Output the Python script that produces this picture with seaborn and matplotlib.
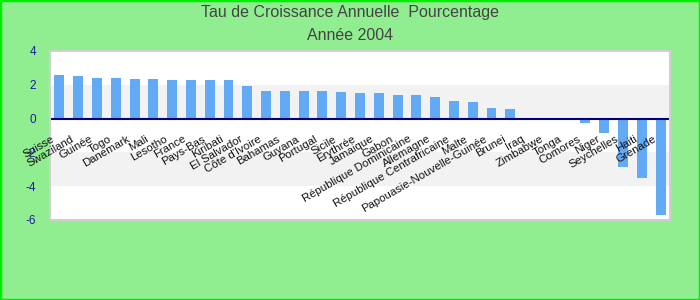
import matplotlib
matplotlib.use("Agg")
import matplotlib.pyplot as plt
import matplotlib.transforms as mtransforms
from matplotlib.patches import Rectangle
import seaborn as sns
import pandas as pd

countries = ["Suisse", "Swaziland", "Guinée", "Togo", "Danemark", "Mali", "Lesotho",
             "France", "Pays-Bas", "Kiribati", "El Salvador", "Côte d'Ivoire", "Bahamas",
             "Guyana", "Portugal", "Sicile", "Erythrée", "Jamaique", "Gabon",
             "République Dominicaine", "Allemagne", "République Centrafricaine", "Malte",
             "Papouasie-Nouvelle-Guinée", "Brunei", "Iraq", "Zimbabwe", "Tonga", "Comores",
             "Niger", "Seychelles", "Haiti", "Grenade"]
values = [2.57, 2.51, 2.40, 2.40, 2.34, 2.34, 2.28, 2.28, 2.28, 2.28, 1.92, 1.62, 1.62,
          1.62, 1.62, 1.56, 1.50, 1.50, 1.39, 1.39, 1.27, 1.03, 0.97, 0.61, 0.55, 0.0,
          0.0, 0.0, -0.28, -0.87, -2.87, -3.52, -5.72]
y_ticks = [4, 2, 0, -2, -4, -6]
title_lines = ["Tau de Croissance Annuelle  Pourcentage", "Année 2004"]

df = pd.DataFrame({"pays": countries, "taux": values})

sns.set_style("white")
plt.rcParams["font.family"] = ["Liberation Sans", "DejaVu Sans"]

W, H = 700, 300
fig = plt.figure(figsize=(7, 3), dpi=100, facecolor="#90EE90")
fig.patches.append(Rectangle((0, 0), 1, 1, transform=fig.transFigure, fill=False,
                             edgecolor="#00ee00", linewidth=2.5, zorder=10))

left, right, top, bottom = 50, 670, 51, 220
ax = fig.add_axes([left / W, 1 - bottom / H, (right - left) / W, (bottom - top) / H])
ax.set_facecolor("white")

ax.axhspan(0, 2, color="#f2f2f2", zorder=0, lw=0)
ax.axhspan(-4, -2, color="#f2f2f2", zorder=0, lw=0)

sns.barplot(data=df, x="pays", y="taux", color="#63aaf4", saturation=1, width=0.53,
            linewidth=0, edgecolor="none", ax=ax, zorder=2)

ax.set_xlim(-0.5, len(countries) - 0.5)
ax.set_ylim(-6, 4)
ax.set_yticks(y_ticks)
ax.set_yticklabels([str(t) for t in y_ticks])
ax.set_xlabel("")
ax.set_ylabel("")

for s in ["left", "right", "top"]:
    ax.spines[s].set_visible(False)
ax.spines["bottom"].set_position(("data", 0))
ax.spines["bottom"].set_color("#000080")
ax.spines["bottom"].set_linewidth(1.5)
ax.spines["bottom"].set_zorder(3)

ax.add_patch(Rectangle((0, 0), 1, 1, transform=ax.transAxes, fill=False,
                       edgecolor="#d0d0d0", linewidth=1.5, zorder=4, clip_on=False))

ax.tick_params(axis="y", length=0, pad=10, labelcolor="#1c1c9c", labelsize=8.5)
ax.tick_params(axis="x", length=0, pad=11, labelcolor="#111111", labelsize=8.2)

ax.set_xticks(range(len(countries)))
ax.set_xticklabels(countries, rotation=30, ha="right", va="top", rotation_mode="anchor")
offset = mtransforms.ScaledTranslation(-8 / 100, 0, fig.dpi_scale_trans)
for lab in ax.get_xticklabels():
    lab.set_transform(lab.get_transform() + offset)
ax.xaxis.set_zorder(5)
ax.yaxis.set_zorder(5)

fig.text(0.5, 1 - 13 / H, title_lines[0], ha="center", va="center", fontsize=11.5, color="#444444")
fig.text(0.5, 1 - 35.5 / H, title_lines[1], ha="center", va="center", fontsize=11.5, color="#444444")

fig.savefig("out.png", dpi=100, facecolor=fig.get_facecolor())
